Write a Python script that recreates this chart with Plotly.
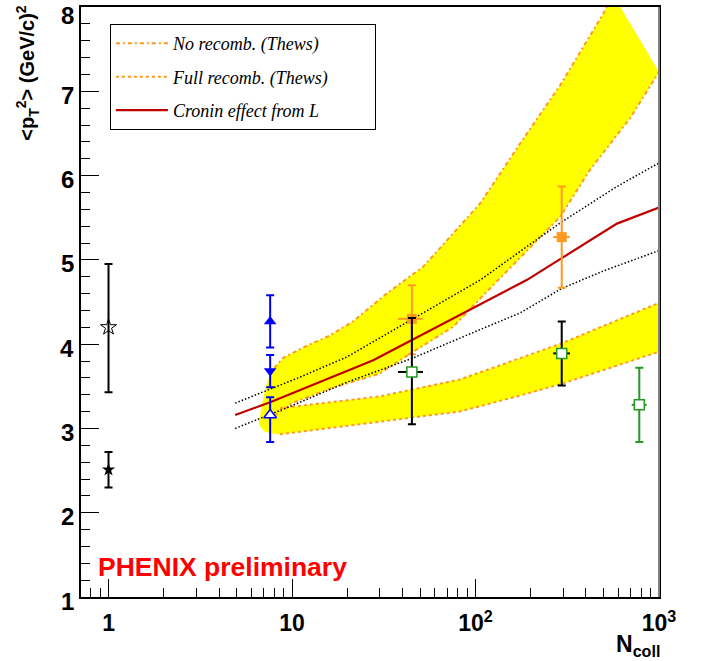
import plotly.graph_objects as go

# ---------------- data ----------------
# "No recomb." band (upper band)
norec_up_x = [8.0, 9.0, 12, 16, 21.5, 32.8, 52, 106, 175, 289, 497, 560]
norec_up_y = [3.72, 3.84, 3.98, 4.10, 4.27, 4.60, 4.92, 5.67, 6.38, 7.07, 7.92, 8.15]
norec_lo_x = [8.0, 10, 16, 30, 45, 76, 108, 175, 289, 421, 695, 1000]
norec_lo_y = [3.15, 3.30, 3.47, 3.65, 3.90, 4.21, 4.56, 5.02, 5.51, 6.07, 6.68, 7.23]
norec_tip_x = [6.6, 6.8, 7.2, 7.6]
norec_tip_y = [3.05, 3.25, 3.50, 3.65]

# "Full recomb." band (lower band)
fullrec_up_x = [8.6, 30, 82, 175, 295, 1000]
fullrec_up_y = [3.24, 3.38, 3.58, 3.83, 4.01, 4.49]
fullrec_lo_x = [8.6, 30, 82, 175, 295, 1000]
fullrec_lo_y = [2.93, 3.08, 3.20, 3.39, 3.53, 3.91]
fullrec_tip_x = [6.6, 7.0, 7.6]
fullrec_tip_up_y = [3.05, 3.14, 3.19]
fullrec_tip_lo_y = [3.05, 2.97, 2.94]

# Cronin effect curve and its bounds
cronin_x = [4.9, 7.6, 27.7, 45, 89.5, 190, 295, 590, 1000]
cronin_y = [3.16, 3.31, 3.81, 4.05, 4.385, 4.76, 5.02, 5.43, 5.62]
cronin_hi_x = [4.9, 11.1, 20, 45, 106, 175, 295, 590, 1000]
cronin_hi_y = [3.30, 3.61, 3.85, 4.29, 4.76, 5.10, 5.45, 5.87, 6.15]
cronin_lo_x = [4.9, 10, 20, 45, 100, 175, 295, 500, 1000]
cronin_lo_y = [3.00, 3.27, 3.55, 3.83, 4.15, 4.37, 4.66, 4.87, 5.11]

# data points
star_open = dict(x=[1.0], y=[4.20], ep=[0.75], em=[0.77])
star_full = dict(x=[1.0], y=[2.51], ep=[0.21], em=[0.21])
blue_tri_up = dict(x=[7.6], y=[4.27], ep=[0.31], em=[0.31])
blue_tri_dn = dict(x=[7.6], y=[3.68], ep=[0.19], em=[0.19])
blue_tri_open = dict(x=[7.6], y=[3.16], ep=[0.21], em=[0.32])
orange_sq = dict(x=[45, 295], y=[4.30, 5.27], ep=[0.40, 0.60], em=[0.42, 0.60],
                 xp=[6.7, 32], xm=[7.2, 30])
black_green_sq = dict(x=[45, 295], y=[3.67, 3.89], ep=[0.64, 0.38], em=[0.62, 0.38],
                      xp=[6.7, 32], xm=[7.2, 30])
green_sq = dict(x=[781], y=[3.28], ep=[0.44], em=[0.44], xp=[76], xm=[71])

x_tickvals = [1, 10, 100, 1000]
x_ticktext = ["1", "10", "10<sup>2</sup>", "10<sup>3</sup>"]
y_tickvals = [1, 2, 3, 4, 5, 6, 7, 8]
y_ticktext = ["1", "2", "3", "4", "5", "6", "7", "8"]

YELLOW = "#ffff00"
ORANGE = "#ff9a1f"
RED = "#c00000"
BLUE = "#0000ff"
GREEN = "#229922"
PAD = "\u00a0" * 9

fig = go.Figure()

# yellow bands
ux = norec_tip_x + norec_up_x
uy = norec_tip_y + norec_up_y
lx = [norec_tip_x[0]] + norec_lo_x
ly = [norec_tip_y[0]] + norec_lo_y
fig.add_trace(go.Scatter(x=ux + lx[::-1], y=uy + ly[::-1], fill="toself",
                         fillcolor=YELLOW, line=dict(width=0), mode="lines",
                         showlegend=False, hoverinfo="skip"))
ux2 = fullrec_tip_x + fullrec_up_x
uy2 = fullrec_tip_up_y + fullrec_up_y
lx2 = fullrec_tip_x + fullrec_lo_x
ly2 = fullrec_tip_lo_y + fullrec_lo_y
fig.add_trace(go.Scatter(x=ux2 + lx2[::-1], y=uy2 + ly2[::-1], fill="toself",
                         fillcolor=YELLOW, line=dict(width=0), mode="lines",
                         showlegend=False, hoverinfo="skip"))

NOREC_DASH = "4px,3px,2px,3px"
# band edges
fig.add_trace(go.Scatter(x=norec_up_x, y=norec_up_y, mode="lines",
                         line=dict(color=ORANGE, width=2, dash=NOREC_DASH),
                         name="<i>No recomb. (Thews)</i>" + PAD, legendrank=1,
                         legendgroup="a"))
fig.add_trace(go.Scatter(x=norec_lo_x, y=norec_lo_y, mode="lines",
                         line=dict(color=ORANGE, width=2, dash=NOREC_DASH),
                         showlegend=False))
fig.add_trace(go.Scatter(x=fullrec_up_x, y=fullrec_up_y, mode="lines",
                         line=dict(color=ORANGE, width=2, dash="dot"),
                         name="<i>Full recomb. (Thews)</i>" + PAD, legendrank=2,
                         legendgroup="b"))
fig.add_trace(go.Scatter(x=fullrec_lo_x, y=fullrec_lo_y, mode="lines",
                         line=dict(color=ORANGE, width=2, dash="dot"),
                         showlegend=False))

# Cronin bounds and curve
fig.add_trace(go.Scatter(x=cronin_hi_x, y=cronin_hi_y, mode="lines",
                         line=dict(color="black", width=1.5, dash="1.5px,2px"),
                         showlegend=False))
fig.add_trace(go.Scatter(x=cronin_lo_x, y=cronin_lo_y, mode="lines",
                         line=dict(color="black", width=1.5, dash="1.5px,2px"),
                         showlegend=False))
fig.add_trace(go.Scatter(x=cronin_x, y=cronin_y, mode="lines",
                         line=dict(color=RED, width=2.2),
                         name="<i>Cronin effect from L</i>" + PAD, legendrank=3,
                         legendgroup="c"))


def pts(d, symbol, mcolor, lcolor, ecolor, size=10, lw=1.5, xerr=False):
    kw = {}
    if xerr:
        kw["error_x"] = dict(type="data", symmetric=False, array=d["xp"],
                             arrayminus=d["xm"], color=ecolor, thickness=2, width=0)
    fig.add_trace(go.Scatter(
        x=d["x"], y=d["y"], mode="markers",
        marker=dict(symbol=symbol, color=mcolor, size=size,
                    line=dict(color=lcolor, width=lw)),
        error_y=dict(type="data", symmetric=False, array=d["ep"], arrayminus=d["em"],
                     color=ecolor, thickness=2, width=4),
        showlegend=False, **kw))


pts(star_open, "star-open", "black", "black", "black", size=12, lw=1)
pts(star_full, "star", "black", "black", "black", size=10, lw=0)
pts(blue_tri_up, "triangle-up", BLUE, BLUE, BLUE, size=11, lw=0)
pts(blue_tri_dn, "triangle-down", BLUE, BLUE, BLUE, size=11, lw=0)
pts(blue_tri_open, "triangle-up", "white", BLUE, BLUE, size=11, lw=1.5)
pts(orange_sq, "square", ORANGE, ORANGE, ORANGE, size=10, lw=0, xerr=True)
pts(black_green_sq, "square", "white", GREEN, "black", size=10, lw=1.5, xerr=True)
pts(green_sq, "square", "white", GREEN, GREEN, size=10, lw=1.5, xerr=True)

# y tick labels (ROOT draws them slightly below the tick), placed on the y scale
ytick_annots = []
for v, t in zip(y_tickvals, y_ticktext):
    top = v == max(y_tickvals)
    ytick_annots.append(dict(
        text="<b>%s</b>" % t, xref="paper", yref="y", x=-0.008, y=v,
        xanchor="right", yanchor="top" if top else "middle",
        yshift=7 if top else -4, showarrow=False,
        font=dict(family="Liberation Sans, Arial", size=24, color="black")))

fig.update_layout(
    width=705, height=661,
    margin=dict(l=81, r=46, t=7, b=64, autoexpand=False),
    paper_bgcolor="white", plot_bgcolor="white",
    legend=dict(x=0.05, y=0.971, xanchor="left", yanchor="top",
                bordercolor="black", borderwidth=1, bgcolor="white",
                font=dict(family="Liberation Serif, Times New Roman", size=18, color="black"),
                traceorder="grouped", tracegroupgap=7, itemwidth=52),
    xaxis=dict(type="log", range=[-0.15, 3.0], tickvals=x_tickvals, ticktext=x_ticktext,
               automargin=False,
               ticks="inside", ticklen=18, tickwidth=1, tickcolor="black",
               showgrid=False, zeroline=False, showline=True, linecolor="black",
               linewidth=1.5, mirror=True,
               tickfont=dict(family="Liberation Sans, Arial", size=23, color="black",
                             weight="bold"),
               ticklabelstandoff=5,
               minor=dict(ticks="inside", ticklen=9, tickcolor="black", dtick="D1",
                          showgrid=False)),
    yaxis=dict(range=[1, 8], tickvals=y_tickvals, automargin=False,
               showticklabels=False,
               ticks="inside", ticklen=18, tickwidth=1, tickcolor="black",
               showgrid=False, zeroline=False, showline=True, linecolor="black",
               linewidth=1.5, mirror=True,
               minor=dict(ticks="inside", ticklen=9, tickcolor="black", dtick=0.2,
                          showgrid=False)),
    shapes=[dict(type="line", xref="paper", yref="paper", x0=1, x1=1, y0=0, y1=1,
                 line=dict(color="#808080", width=2))],
    annotations=ytick_annots + [
        dict(text="<b>&lt;p<sub>T</sub><sup>2</sup>&gt; (GeV/c)<sup>2</sup></b>",
             xref="paper", yref="paper", x=-0.092, y=1.007, xanchor="center",
             yanchor="top", textangle=-90, showarrow=False,
             font=dict(family="Liberation Sans, Arial", size=20, color="black")),
        dict(text="<b>N<sub>coll</sub></b>", xref="paper", yref="paper",
             x=1.005, y=-0.082, xanchor="right", yanchor="middle", showarrow=False,
             font=dict(family="Liberation Sans, Arial", size=23, color="black")),
        dict(text="<b>PHENIX preliminary</b>", xref="paper", yref="paper",
             x=0.026, y=0.051, xanchor="left", yanchor="middle", showarrow=False,
             font=dict(family="Liberation Sans, Arial", size=26.5, color="#ff0000")),
    ],
)

fig.write_html("out.html")
